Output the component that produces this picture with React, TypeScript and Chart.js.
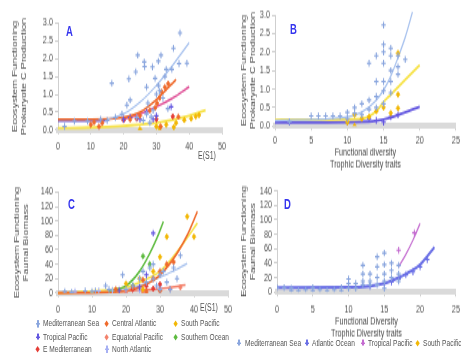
import React, { useEffect, useRef } from 'react';
import { Chart, registerables } from 'chart.js';

Chart.register(...registerables);

type P = [number, number];

// ---------------- Panel A : E(S1) vs Prokaryote C production ----------------
const aXTicks = [0, 10, 20, 30, 40, 50];
const aYTicks = [0, 0.5, 1, 1.5, 2, 2.5, 3];
const aMedSea: P[] = [[2,0.1],[5,0.25],[9,0.25],[13,0.3],[15,0.27],[16.4,1.31],[17.5,0.35],[19.5,0.45],[21,0.7],[21.6,1.43],[22,0.84],[23.7,1.63],[24.3,2.1],[26,0.27],[26.3,1.91],[26.4,1.78],[27,1.2],[27.4,0.75],[28,0.2],[28.4,0.37],[28.8,1.77],[29.6,1.45],[30,1.0],[30.6,1.93],[30.6,1.25],[31,1.1],[31.4,2.1],[32,0.9],[32.6,1.5],[33,1.7],[33.5,0.6],[34.7,1.7],[35.2,2.29],[36.9,1.86],[37.2,2.72],[39.3,1.87],[24,0.35],[27,0.45],[29,0.55]];
const aCentralAtl: P[] = [[10,0.15],[11,0.22],[12.5,0.1],[13.5,0.2],[22,0.3],[25,0.4],[28,0.55],[29.6,0.62],[30.2,0.75],[31,0.9],[31.6,1.07],[32.6,1.2],[33.6,1.3],[31.3,0.1],[36.7,0.37]];
const aSouthPac: P[] = [[25,0.02],[30,0.1],[31,0.05],[33,0.15],[35.3,0.08],[36,0.2],[38.5,0.28],[40.6,0.32],[42,0.38],[43,0.42]];
const aTropPac: P[] = [[20,0.3],[22,0.35],[25,0.3],[27,0.5],[30,0.4],[34.5,0.65],[29,0.3]];
const aEMed: P[] = [[20,0.28],[24,0.32],[30,0.3],[35,0.38]];
const aMedSeaFit: P[] = [[15,0.3],[20,0.45],[25,0.78],[30,1.25],[35,1.82],[40,2.45]];
const aCentralAtlFit: P[] = [[0,0.3],[10,0.3],[20,0.35],[25,0.5],[30,0.85],[36,1.42]];
const aEMedFit: P[] = [[20,0.3],[25,0.45],[30,0.65],[35,0.9],[40,1.21]];
const aSouthPacFit: P[] = [[0,0.05],[10,0.07],[20,0.12],[30,0.2],[40,0.4],[45,0.56]];
const aTropPacFit: P[] = [[0,0.25],[8,0.25],[15,0.26]];

// ---------------- Panel B : Functional diversity vs Prokaryote C production ----------------
const bXTicks = [0, 5, 10, 15, 20, 25];
const bYTicks = [0, 0.5, 1, 1.5, 2, 2.5, 3];
const bMedSea: P[] = [[2,0.12],[5,0.27],[6,0.27],[7,0.27],[8,0.27],[9,0.27],[10,0.37],[10,0.2],[11,0.5],[11,0.35],[12,0.6],[12,0.3],[13,0.7],[13,1.7],[13,0.45],[14,0.8],[14,1.9],[14,1.2],[14,0.5],[15,2.73],[15,2.2],[15,2.0],[15,1.7],[15,1.2],[15,0.95],[15,0.6],[16,2.1],[16,1.9],[16,1.5],[16,1.2],[16,0.9],[17,1.9],[17,1.6],[17,1.4],[18,1.8]];
const bSouthPac: P[] = [[10,0.1],[11,0.3],[11,0.0],[12,0.2],[13,0.25],[14,0.4],[15,0.5],[16,0.35],[17,1.97],[17,0.85],[17,0.48]];
const bTropPac: P[] = [[2,0.1],[10,0.1],[13,0.2],[14,0.15],[15,0.1],[16,0.25],[17,0.3]];
const bMedSeaFit: P[] = [[0,0.15],[10,0.25],[12,0.38],[14,0.7],[15,0.97],[16,1.35],[17,1.85],[18,2.4],[19,3.08]];
const bSouthPacFit: P[] = [[0,0.17],[12,0.2],[14,0.4],[15,0.65],[16,0.85],[18,1.25],[20,1.65]];
const bTropPacFit: P[] = [[0,0.1],[13,0.12],[15,0.18],[17,0.3],[20,0.52]];

// ---------------- Panel C : E(S1) vs Faunal biomass ----------------
const cXTicks = [0, 10, 20, 30, 40, 50];
const cYTicks = [0, 20, 40, 60, 80, 100, 120, 140];
const cMedSea: P[] = [[2,2],[4,1],[8,3],[10,2],[11,3],[14,10],[15,5],[19,25],[20,5],[22,10],[24,20],[25,30],[26,15],[27,35],[28,20],[28,40],[29,10],[30,25],[30,5],[31,30],[32,15],[33,5],[34,35],[35,20],[36,52]];
const cCentralAtl: P[] = [[17,5],[22,8],[25,18],[26,2],[28,20],[30,30],[30,3],[32,40],[34,43]];
const cSouthPac: P[] = [[10,0],[20,13],[24,20],[25,5],[28,30],[30,50],[32,78],[38,106],[40,78]];
const cTropPac: P[] = [[18,4],[24,8],[26,25],[28,83]];
const cEqPac: P[] = [[20,2],[25,2],[30,4],[33,6],[36,8]];
const cSouthernOcean: P[] = [[22,10],[25,51],[27,40]];
const cEMed: P[] = [[22,5],[26,10],[28,6],[30,12]];
const cNorthAtl: P[] = [[5,2],[12,3],[16,4],[24,4],[30,8]];
const cSouthernFit: P[] = [[15,3],[20,10],[24,30],[27,55],[29,75],[31,99]];
const cCentralAtlFit: P[] = [[0,0],[20,3],[25,10],[30,25],[35,55],[38,80],[41,113]];
const cSouthPacFit: P[] = [[0,0],[20,8],[25,17],[30,30],[33,45],[37,70],[41,97]];
const cMedSeaFit: P[] = [[0,1],[20,6],[25,12],[30,22],[35,33],[38,41]];
const cEqPacFit: P[] = [[0,1],[20,3],[30,6],[37.5,11]];

// ---------------- Panel D : Functional diversity vs Faunal biomass ----------------
const dXTicks = [0, 5, 10, 15, 20, 25];
const dYTicks = [0, 20, 40, 60, 80, 100, 120, 140];
const dMedSea: P[] = [[0,6],[1,6],[2,2],[2,5],[3,2],[4,3],[5,2],[5,6],[6,3],[7,2],[8,3],[9,2],[9,6],[10,5],[10,12],[10,18],[11,5],[11,12],[12,37],[12,25],[12,15],[12,10],[13,25],[13,15],[13,10],[14,49],[14,35],[14,20],[14,10],[15,54],[15,38],[15,25],[15,15],[15,5],[16,40],[16,30],[16,20],[17,37],[17,25],[17,15]];
const dAtlantic: P[] = [[13,8],[15,12],[16,14],[17,18],[18,24],[19,28],[20,35],[21,45]];
const dTropPac: P[] = [[17,58],[19.2,82]];
const dTropPacFit: P[] = [[17,35],[18,52],[19,72],[20,95]];
const dAtlanticFit: P[] = [[0,6],[10,6.5],[15,12],[17,20],[18,25],[20,38],[22,62]];

// ---------------- colours ----------------
const C_MED = '#8aa6de';
const C_MED_FIT = '#a8c2ee';
const C_CATL = '#ef6a2c';
const C_SPAC = '#f2b705';
const C_SPAC_FIT = '#f7e34c';
const C_TPAC = '#6458e0';
const C_EQPAC = '#f3826c';
const C_SOC = '#5dbb3f';
const C_EMED = '#e53d36';
const C_NATL = '#a7b0f3';
const C_ATL = '#6b70e6';
const C_PINK = '#e0569a';
const C_DPURP = '#c46cd0';

// ---------------- geometry ----------------
const W = 461;
const H_PAGE = 356;
const IH = 238;
const SY = H_PAGE / IH;
const iy = (y: number) => y / SY;
const FONT = "'Liberation Sans', Arial, sans-serif";

type Series = { label: string; data: P[]; color: string; kind: 'cross' | 'diamond' };
type Fit = { label: string; data: P[]; color: string; width?: number };
type Spec = {
  boxLeft: number; areaLeft: number; areaRight: number;
  areaTop: number; areaBottom: number; xBoxBottom: number; tickPad: number;
  xTicks: number[]; yTicks: number[]; yDec: number;
  yTitle: string[]; yTitlePad: number; xTitle?: string[];
  points: Series[]; fits: Fit[];
};

const specA: Spec = {
  boxLeft: 0, areaLeft: 58, areaRight: 222, areaTop: 23, areaBottom: 130, xBoxBottom: 156, tickPad: 4,
  xTicks: aXTicks, yTicks: aYTicks, yDec: 1,
  yTitle: ['Ecosystem Functioning', 'Prokaryote C Production'], yTitlePad: 10,
  points: [
    { label: 'Mediterranean Sea', data: aMedSea, color: C_MED, kind: 'cross' },
    { label: 'Central Atlantic', data: aCentralAtl, color: C_CATL, kind: 'diamond' },
    { label: 'South Pacific', data: aSouthPac, color: C_SPAC, kind: 'diamond' },
    { label: 'Tropical Pacific', data: aTropPac, color: C_TPAC, kind: 'cross' },
    { label: 'E Mediterranean', data: aEMed, color: C_EMED, kind: 'diamond' },
  ],
  fits: [
    { label: 'Mediterranean Sea fit', data: aMedSeaFit, color: C_MED_FIT },
    { label: 'Central Atlantic fit', data: aCentralAtlFit, color: C_CATL, width: 1.6 },
    { label: 'E Mediterranean fit', data: aEMedFit, color: C_PINK, width: 1.5 },
    { label: 'South Pacific fit', data: aSouthPacFit, color: C_SPAC_FIT, width: 1.8 },
    { label: 'Tropical Pacific fit', data: aTropPacFit, color: C_TPAC },
  ],
};

const specB: Spec = {
  boxLeft: 230, areaLeft: 275, areaRight: 460, areaTop: 15, areaBottom: 126, xBoxBottom: 171, tickPad: 2,
  xTicks: bXTicks, yTicks: bYTicks, yDec: 1,
  yTitle: ['Ecosystem Functioning', 'Prokaryote C Production'], yTitlePad: 9,
  xTitle: ['Functional diversity', 'Trophic Diversity traits'],
  points: [
    { label: 'Mediterranean Sea', data: bMedSea, color: C_MED, kind: 'cross' },
    { label: 'South Pacific', data: bSouthPac, color: C_SPAC, kind: 'diamond' },
    { label: 'Tropical Pacific', data: bTropPac, color: C_TPAC, kind: 'cross' },
  ],
  fits: [
    { label: 'Mediterranean Sea fit', data: bMedSeaFit, color: C_MED_FIT },
    { label: 'South Pacific fit', data: bSouthPacFit, color: C_SPAC_FIT, width: 1.8 },
    { label: 'Tropical Pacific fit', data: bTropPacFit, color: C_TPAC, width: 1.8 },
  ],
};

const specC: Spec = {
  boxLeft: 0, areaLeft: 58, areaRight: 228, areaTop: 192, areaBottom: 293, xBoxBottom: 316, tickPad: 4,
  xTicks: cXTicks, yTicks: cYTicks, yDec: 0,
  yTitle: ['Ecosystem Functioning', 'Faunal Biomass'], yTitlePad: 12,
  points: [
    { label: 'Mediterranean Sea', data: cMedSea, color: C_MED, kind: 'cross' },
    { label: 'Central Atlantic', data: cCentralAtl, color: C_CATL, kind: 'diamond' },
    { label: 'South Pacific', data: cSouthPac, color: C_SPAC, kind: 'diamond' },
    { label: 'Tropical Pacific', data: cTropPac, color: C_TPAC, kind: 'cross' },
    { label: 'Equatorial Pacific', data: cEqPac, color: C_EQPAC, kind: 'diamond' },
    { label: 'Southern Ocean', data: cSouthernOcean, color: C_SOC, kind: 'diamond' },
    { label: 'E Mediterranean', data: cEMed, color: C_EMED, kind: 'diamond' },
    { label: 'North Atlantic', data: cNorthAtl, color: C_NATL, kind: 'cross' },
  ],
  fits: [
    { label: 'Southern Ocean fit', data: cSouthernFit, color: C_SOC, width: 1.5 },
    { label: 'Central Atlantic fit', data: cCentralAtlFit, color: C_CATL, width: 1.5 },
    { label: 'South Pacific fit', data: cSouthPacFit, color: C_SPAC_FIT, width: 1.6 },
    { label: 'Mediterranean Sea fit', data: cMedSeaFit, color: C_MED_FIT },
    { label: 'Equatorial Pacific fit', data: cEqPacFit, color: C_EQPAC, width: 1.5 },
  ],
};

const specD: Spec = {
  boxLeft: 230, areaLeft: 277, areaRight: 458, areaTop: 191, areaBottom: 292, xBoxBottom: 340, tickPad: 4.6,
  xTicks: dXTicks, yTicks: dYTicks, yDec: 0,
  yTitle: ['Ecosystem Functioning', 'Faunal Biomass'], yTitlePad: 9,
  xTitle: ['Functional Diversity', 'Trophic Diversity traits'],
  points: [
    { label: 'Mediterranean Sea', data: dMedSea, color: C_MED, kind: 'cross' },
    { label: 'Atlantic Ocean', data: dAtlantic, color: C_ATL, kind: 'cross' },
    { label: 'Tropical Pacific', data: dTropPac, color: C_DPURP, kind: 'cross' },
  ],
  fits: [
    { label: 'Tropical Pacific fit', data: dTropPacFit, color: C_DPURP },
    { label: 'Atlantic Ocean fit', data: dAtlanticFit, color: C_ATL, width: 2 },
  ],
};

function buildConfig(p: Spec): any {
  const datasets: any[] = [];
  p.fits.forEach((f) => datasets.push({
    type: 'line', label: f.label,
    data: f.data.map(([x, y]) => ({ x, y })),
    borderColor: f.color, backgroundColor: f.color, borderWidth: f.width ?? 1.2,
    pointRadius: 0, fill: false, tension: 0.4, cubicInterpolationMode: 'monotone',
    clip: false, order: 2,
  }));
  p.points.forEach((s) => datasets.push({
    type: 'scatter', label: s.label,
    data: s.data.map(([x, y]) => ({ x, y })),
    pointStyle: s.kind === 'cross' ? 'cross' : 'rectRot',
    pointRadius: s.kind === 'cross' ? 2.2 : 1.9,
    pointBorderWidth: s.kind === 'cross' ? 1.1 : 0.7,
    borderColor: s.color, backgroundColor: s.color, order: 1,
  }));
  const xt = p.xTicks, yt = p.yTicks;
  const areaTop = iy(p.areaTop), areaBottom = iy(p.areaBottom), xBoxBottom = iy(p.xBoxBottom);
  return {
    type: 'scatter',
    data: { datasets },
    options: {
      animation: false, responsive: false, events: [],
      layout: { padding: { left: p.boxLeft, top: areaTop, right: W - p.areaRight, bottom: IH - xBoxBottom } },
      plugins: { legend: { display: false }, tooltip: { enabled: false }, title: { display: false } },
      scales: {
        x: {
          type: 'linear', min: xt[0], max: xt[xt.length - 1],
          afterBuildTicks: (s: any) => { s.ticks = xt.map((v) => ({ value: v })); },
          ticks: { color: '#555', font: { family: FONT, size: 7.3 }, padding: p.tickPad, maxRotation: 0, autoSkip: false },
          grid: { drawOnChartArea: false, drawTicks: true, tickLength: 3, color: '#d0d0d0' },
          border: { display: true, color: '#dadada', width: 4 },
          title: p.xTitle
            ? { display: true, text: p.xTitle, color: '#4a4a4a', font: { family: FONT, size: 7.2, lineHeight: 1.1 }, padding: 0 }
            : { display: false },
          afterFit: (s: any) => { s.height = xBoxBottom - areaBottom; s.paddingLeft = 0; s.paddingRight = 0; },
        },
        y: {
          type: 'linear', min: yt[0], max: yt[yt.length - 1],
          afterBuildTicks: (s: any) => { s.ticks = yt.map((v) => ({ value: v })); },
          ticks: {
            color: '#555', font: { family: FONT, size: 7.3, lineHeight: 1 }, padding: 2,
            autoSkip: false, maxRotation: 0,
            callback: (v: any) => Number(v).toFixed(p.yDec),
          },
          grid: { drawOnChartArea: false, drawTicks: true, tickLength: 3, color: '#cfcfcf' },
          border: { display: true, color: '#cfcfcf', width: 1 },
          title: {
            display: true, text: p.yTitle, color: '#4a4a4a',
            font: { family: FONT, size: 7.2, lineHeight: 1.3 }, padding: { top: p.yTitlePad, bottom: 0 },
          },
          afterFit: (s: any) => { s.width = p.areaLeft - p.boxLeft; s.paddingTop = 0; s.paddingBottom = 0; },
        },
      },
    },
  };
}

function PanelChart({ spec }: { spec: Spec }) {
  const ref = useRef<HTMLCanvasElement>(null);
  useEffect(() => {
    const chart = new Chart(ref.current as HTMLCanvasElement, buildConfig(spec));
    return () => chart.destroy();
  }, [spec]);
  return (
    <canvas ref={ref} width={W} height={IH}
      style={{ position: 'absolute', left: 0, top: 0, width: W, height: IH }} />
  );
}

// ---------------- legends ----------------
type LegendItem = { label: string; color: string; kind: 'cross' | 'diamond'; mx: number; tx: number; y: number };
const cLegend: LegendItem[] = [
  { label: 'Mediterranean Sea', color: C_MED, kind: 'cross', mx: 38, tx: 43, y: 324 },
  { label: 'Central Atlantic', color: C_CATL, kind: 'diamond', mx: 107, tx: 112, y: 324 },
  { label: 'South Pacific', color: C_SPAC, kind: 'diamond', mx: 176, tx: 181, y: 324 },
  { label: 'Tropical Pacific', color: C_TPAC, kind: 'cross', mx: 38, tx: 43, y: 337 },
  { label: 'Equatorial Pacific', color: C_EQPAC, kind: 'diamond', mx: 107, tx: 112, y: 337 },
  { label: 'Southern Ocean', color: C_SOC, kind: 'diamond', mx: 176, tx: 181, y: 337 },
  { label: 'E Mediterranean', color: C_EMED, kind: 'diamond', mx: 38, tx: 43, y: 349 },
  { label: 'North Atlantic', color: C_NATL, kind: 'cross', mx: 107, tx: 112, y: 349 },
];
const dLegend: LegendItem[] = [
  { label: 'Mediterranean Sea', color: C_MED, kind: 'cross', mx: 239, tx: 245, y: 343 },
  { label: 'Atlantic Ocean', color: C_ATL, kind: 'cross', mx: 307, tx: 312, y: 343 },
  { label: 'Tropical Pacific', color: C_DPURP, kind: 'cross', mx: 363, tx: 368, y: 343 },
  { label: 'South Pacific', color: C_SPAC, kind: 'diamond', mx: 418, tx: 423, y: 343 },
];

function Marker({ kind, color, x, y }: { kind: string; color: string; x: number; y: number }) {
  const cy = iy(y);
  if (kind === 'diamond') {
    return <div style={{ position: 'absolute', left: x - 1.6, top: cy - 1.6, width: 3.2, height: 3.2, background: color, transform: 'rotate(45deg)' }} />;
  }
  return (
    <>
      <div style={{ position: 'absolute', left: x - 0.55, top: cy - 2.2, width: 1.1, height: 4.4, background: color }} />
      <div style={{ position: 'absolute', left: x - 2, top: cy - 0.55, width: 4, height: 1.1, background: color }} />
    </>
  );
}

function Label({ text, x, y, size, color, bold }: { text: string; x: number; y: number; size: number; color: string; bold?: boolean }) {
  return (
    <div style={{
      position: 'absolute', left: x, top: iy(y) - size / 2, fontFamily: FONT, fontSize: size,
      lineHeight: `${size}px`, color, whiteSpace: 'nowrap', fontWeight: bold ? 700 : 400,
    }}>{text}</div>
  );
}

const panelLetters = [
  { text: 'A', x: 66, y: 31 },
  { text: 'B', x: 290, y: 29 },
  { text: 'C', x: 68, y: 205 },
  { text: 'D', x: 284, y: 205 },
];

export default function App() {
  return (
    <div style={{ position: 'fixed', left: 0, top: 0, width: W, height: H_PAGE, background: '#fff', overflow: 'hidden' }}>
      <div style={{ position: 'absolute', left: 0, top: 0, width: W, height: IH, transform: `scaleY(${SY})`, transformOrigin: '0 0' }}>
        <PanelChart spec={specA} />
        <PanelChart spec={specB} />
        <PanelChart spec={specC} />
        <PanelChart spec={specD} />
        {panelLetters.map((l) => (
          <Label key={l.text} text={l.text} x={l.x} y={l.y} size={9.5} color="#3535ee" bold />
        ))}
        <Label text="E(S1)" x={198} y={155} size={7} color="#555" />
        <Label text="E(S1)" x={200} y={308} size={7} color="#555" />
        {[...cLegend, ...dLegend].map((it, i) => (
          <React.Fragment key={i}>
            <Marker kind={it.kind} color={it.color} x={it.mx} y={it.y} />
            <Label text={it.label} x={it.tx} y={it.y} size={6.6} color="#555" />
          </React.Fragment>
        ))}
      </div>
    </div>
  );
}
